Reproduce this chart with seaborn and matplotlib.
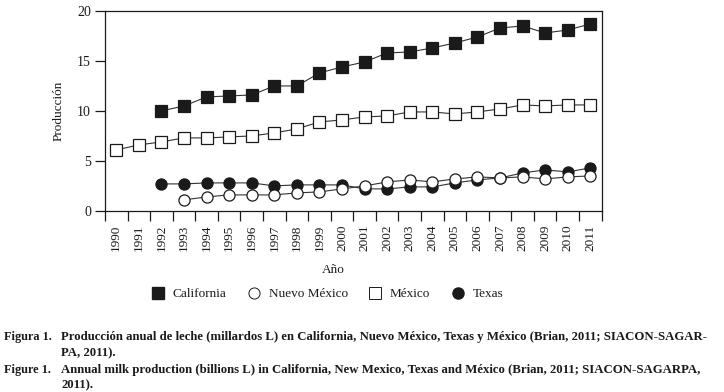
import numpy as np
import pandas as pd
import seaborn as sns
import matplotlib.pyplot as plt
from matplotlib.lines import Line2D
from matplotlib.ticker import MultipleLocator

sns.set_theme(style="ticks")
plt.rcParams['font.family'] = ['Liberation Serif', 'DejaVu Serif']

# Producción anual de leche (millardos L)
years = list(range(1990, 2012))
california_years = list(range(1992, 2012))
california = [10.0, 10.5, 11.4, 11.5, 11.6, 12.5, 12.5, 13.8, 14.4, 14.9,
              15.8, 15.9, 16.3, 16.8, 17.4, 18.3, 18.5, 17.8, 18.1, 18.7]
nuevo_mexico_years = list(range(1993, 2012))
nuevo_mexico = [1.1, 1.4, 1.6, 1.6, 1.6, 1.8, 1.9, 2.2, 2.5, 2.9,
                3.1, 2.9, 3.2, 3.4, 3.3, 3.4, 3.2, 3.4, 3.5]
mexico_years = list(range(1990, 2012))
mexico = [6.1, 6.6, 6.9, 7.3, 7.3, 7.4, 7.5, 7.8, 8.2, 8.9, 9.1,
          9.4, 9.5, 9.9, 9.9, 9.7, 9.9, 10.2, 10.6, 10.5, 10.6, 10.6]
texas_years = list(range(1992, 2012))
texas = [2.7, 2.7, 2.8, 2.8, 2.8, 2.5, 2.6, 2.6, 2.6, 2.2,
         2.2, 2.4, 2.4, 2.8, 3.1, 3.3, 3.8, 4.1, 3.9, 4.3]

dark = '#1a1a1a'
line_col = '#333333'

fig = plt.figure(figsize=(7.24, 3.92), dpi=100)
ax = fig.add_axes([0.145, 0.462, 0.686, 0.51])

# orden de dibujo: México, California, Texas, Nuevo México
sns.lineplot(x=mexico_years, y=mexico, ax=ax, color=line_col, linewidth=0.8,
             marker='s', markersize=8, markerfacecolor='white',
             markeredgecolor=dark, markeredgewidth=0.9)
sns.lineplot(x=california_years, y=california, ax=ax, color=line_col, linewidth=0.8,
             marker='s', markersize=8, markerfacecolor=dark,
             markeredgecolor=dark, markeredgewidth=0.9)
sns.lineplot(x=texas_years, y=texas, ax=ax, color=line_col, linewidth=0.8,
             marker='o', markersize=8, markerfacecolor=dark,
             markeredgecolor=dark, markeredgewidth=0.9)
sns.lineplot(x=nuevo_mexico_years, y=nuevo_mexico, ax=ax, color=line_col, linewidth=0.8,
             marker='o', markersize=8, markerfacecolor='white',
             markeredgecolor=dark, markeredgewidth=0.9)

ax.set_xlim(1989.5, 2011.5)
ax.set_ylim(0, 20)
ax.set_xticks(years)
ax.set_xticklabels([str(y) for y in years], rotation=90, fontsize=9.5, color=dark)
ax.xaxis.set_minor_locator(MultipleLocator(1, offset=0.5))
ax.tick_params(axis='x', which='major', length=0, pad=10)
ax.tick_params(axis='x', which='minor', length=7, width=0.9, direction='out', color=dark)
ax.set_yticks([0, 5, 10, 15, 20])
ax.tick_params(axis='y', length=7, width=0.9, direction='out', pad=3, labelsize=10,
               color=dark, labelcolor=dark)
for s in ax.spines.values():
    s.set_linewidth(0.9)
    s.set_color(dark)

ax.set_xlabel('')
ax.set_ylabel('Producción', fontsize=9.5, color=dark, labelpad=9)
fig.text(0.46, 1 - 270 / 392, 'Año', ha='center', va='center', fontsize=9.5, color=dark)

handles = [
    Line2D([], [], linestyle='none', marker='s', markersize=8, markerfacecolor=dark,
           markeredgecolor=dark),
    Line2D([], [], linestyle='none', marker='o', markersize=8, markerfacecolor='white',
           markeredgecolor=dark, markeredgewidth=0.7),
    Line2D([], [], linestyle='none', marker='s', markersize=8, markerfacecolor='white',
           markeredgecolor=dark, markeredgewidth=0.7),
    Line2D([], [], linestyle='none', marker='o', markersize=8, markerfacecolor=dark,
           markeredgecolor=dark),
]
fig.legend(handles, ['California', 'Nuevo México', 'México', 'Texas'],
           loc='center', bbox_to_anchor=(0.452, 1 - 294 / 392), ncol=4, frameon=False,
           fontsize=9.5, handlelength=1.0, handletextpad=0.6, columnspacing=1.6,
           labelcolor=dark)

# pie de figura
cap = dict(fontsize=9.2, fontweight='bold', color=dark, va='center')
pre = dict(fontsize=8.8, fontweight='bold', color=dark, va='center')
fig.text(4 / 724, 1 - 337 / 392, 'Figura 1.', **pre)
fig.text(61 / 724, 1 - 337 / 392,
         'Producción anual de leche (millardos L) en California, Nuevo México, Texas y México '
         '(Brian, 2011; SIACON-SAGAR-', **cap)
fig.text(61 / 724, 1 - 353 / 392, 'PA, 2011).', **cap)
fig.text(4 / 724, 1 - 370 / 392, 'Figure 1.', **pre)
fig.text(61 / 724, 1 - 370 / 392,
         'Annual milk production (billions L) in California, New Mexico, Texas and México '
         '(Brian, 2011; SIACON-SAGARPA,', **cap)
fig.text(61 / 724, 1 - 385 / 392, '2011).', **cap)

fig.savefig('out.png', dpi=100)
